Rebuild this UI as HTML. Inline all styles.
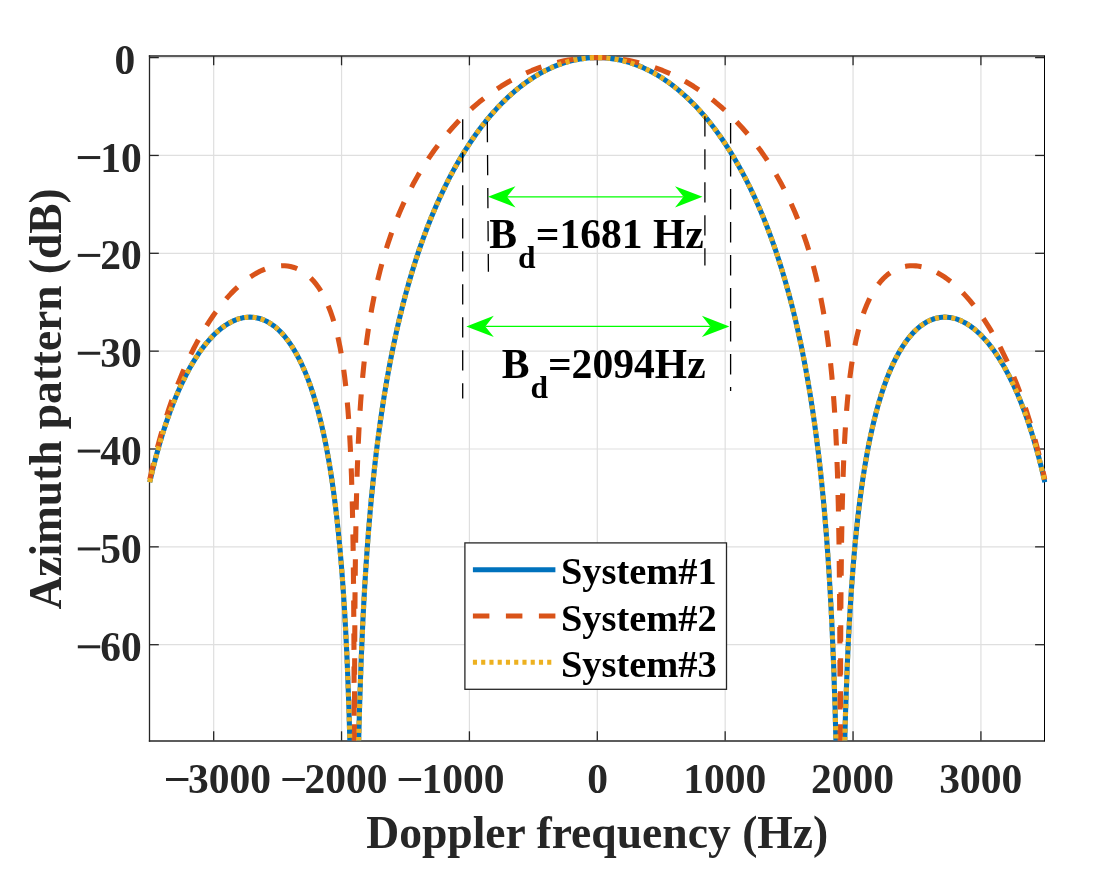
<!DOCTYPE html>
<html><head><meta charset="utf-8"><style>html,body{margin:0;padding:0;background:#fff;overflow:hidden}svg{display:block;will-change:transform}</style></head>
<body><svg width="1100" height="880" viewBox="0 0 1100 880"><line x1="213.68" y1="56.0" x2="213.68" y2="740.6" stroke="#dfdfdf" stroke-width="1.2"/>
<line x1="341.55" y1="56.0" x2="341.55" y2="740.6" stroke="#dfdfdf" stroke-width="1.2"/>
<line x1="469.42" y1="56.0" x2="469.42" y2="740.6" stroke="#dfdfdf" stroke-width="1.2"/>
<line x1="597.30" y1="56.0" x2="597.30" y2="740.6" stroke="#dfdfdf" stroke-width="1.2"/>
<line x1="725.17" y1="56.0" x2="725.17" y2="740.6" stroke="#dfdfdf" stroke-width="1.2"/>
<line x1="853.05" y1="56.0" x2="853.05" y2="740.6" stroke="#dfdfdf" stroke-width="1.2"/>
<line x1="980.92" y1="56.0" x2="980.92" y2="740.6" stroke="#dfdfdf" stroke-width="1.2"/>
<line x1="149.5" y1="57.60" x2="1044.4" y2="57.60" stroke="#dfdfdf" stroke-width="1.2"/>
<line x1="149.5" y1="155.45" x2="1044.4" y2="155.45" stroke="#dfdfdf" stroke-width="1.2"/>
<line x1="149.5" y1="253.30" x2="1044.4" y2="253.30" stroke="#dfdfdf" stroke-width="1.2"/>
<line x1="149.5" y1="351.15" x2="1044.4" y2="351.15" stroke="#dfdfdf" stroke-width="1.2"/>
<line x1="149.5" y1="449.00" x2="1044.4" y2="449.00" stroke="#dfdfdf" stroke-width="1.2"/>
<line x1="149.5" y1="546.85" x2="1044.4" y2="546.85" stroke="#dfdfdf" stroke-width="1.2"/>
<line x1="149.5" y1="644.70" x2="1044.4" y2="644.70" stroke="#dfdfdf" stroke-width="1.2"/>
<line x1="148.85" y1="56.0" x2="1044.4" y2="56.0" stroke="#262626" stroke-width="1.3"/>
<line x1="148.85" y1="741.0" x2="1044.4" y2="741.0" stroke="#262626" stroke-width="1.3"/>
<line x1="149.5" y1="55.35" x2="149.5" y2="741.65" stroke="#262626" stroke-width="1.3"/>
<line x1="1044.5" y1="55.35" x2="1044.5" y2="741.65" stroke="#000" stroke-width="1.0"/>
<line x1="213.68" y1="740.6" x2="213.68" y2="731.3000000000001" stroke="#262626" stroke-width="1.3"/>
<line x1="213.68" y1="56.0" x2="213.68" y2="65.3" stroke="#262626" stroke-width="1.3"/>
<line x1="341.55" y1="740.6" x2="341.55" y2="731.3000000000001" stroke="#262626" stroke-width="1.3"/>
<line x1="341.55" y1="56.0" x2="341.55" y2="65.3" stroke="#262626" stroke-width="1.3"/>
<line x1="469.42" y1="740.6" x2="469.42" y2="731.3000000000001" stroke="#262626" stroke-width="1.3"/>
<line x1="469.42" y1="56.0" x2="469.42" y2="65.3" stroke="#262626" stroke-width="1.3"/>
<line x1="597.30" y1="740.6" x2="597.30" y2="731.3000000000001" stroke="#262626" stroke-width="1.3"/>
<line x1="597.30" y1="56.0" x2="597.30" y2="65.3" stroke="#262626" stroke-width="1.3"/>
<line x1="725.17" y1="740.6" x2="725.17" y2="731.3000000000001" stroke="#262626" stroke-width="1.3"/>
<line x1="725.17" y1="56.0" x2="725.17" y2="65.3" stroke="#262626" stroke-width="1.3"/>
<line x1="853.05" y1="740.6" x2="853.05" y2="731.3000000000001" stroke="#262626" stroke-width="1.3"/>
<line x1="853.05" y1="56.0" x2="853.05" y2="65.3" stroke="#262626" stroke-width="1.3"/>
<line x1="980.92" y1="740.6" x2="980.92" y2="731.3000000000001" stroke="#262626" stroke-width="1.3"/>
<line x1="980.92" y1="56.0" x2="980.92" y2="65.3" stroke="#262626" stroke-width="1.3"/>
<line x1="149.5" y1="57.60" x2="158.8" y2="57.60" stroke="#262626" stroke-width="1.3"/>
<line x1="1044.4" y1="57.60" x2="1035.1000000000001" y2="57.60" stroke="#262626" stroke-width="1.3"/>
<line x1="149.5" y1="155.45" x2="158.8" y2="155.45" stroke="#262626" stroke-width="1.3"/>
<line x1="1044.4" y1="155.45" x2="1035.1000000000001" y2="155.45" stroke="#262626" stroke-width="1.3"/>
<line x1="149.5" y1="253.30" x2="158.8" y2="253.30" stroke="#262626" stroke-width="1.3"/>
<line x1="1044.4" y1="253.30" x2="1035.1000000000001" y2="253.30" stroke="#262626" stroke-width="1.3"/>
<line x1="149.5" y1="351.15" x2="158.8" y2="351.15" stroke="#262626" stroke-width="1.3"/>
<line x1="1044.4" y1="351.15" x2="1035.1000000000001" y2="351.15" stroke="#262626" stroke-width="1.3"/>
<line x1="149.5" y1="449.00" x2="158.8" y2="449.00" stroke="#262626" stroke-width="1.3"/>
<line x1="1044.4" y1="449.00" x2="1035.1000000000001" y2="449.00" stroke="#262626" stroke-width="1.3"/>
<line x1="149.5" y1="546.85" x2="158.8" y2="546.85" stroke="#262626" stroke-width="1.3"/>
<line x1="1044.4" y1="546.85" x2="1035.1000000000001" y2="546.85" stroke="#262626" stroke-width="1.3"/>
<line x1="149.5" y1="644.70" x2="158.8" y2="644.70" stroke="#262626" stroke-width="1.3"/>
<line x1="1044.4" y1="644.70" x2="1035.1000000000001" y2="644.70" stroke="#262626" stroke-width="1.3"/>
<defs><clipPath id="cp"><rect x="146.5" y="51.0" width="900.90" height="689.60"/></clipPath></defs>
<g clip-path="url(#cp)" fill="none" stroke-linejoin="round">
<path d="M149.74,482.23 L152.74,469.42 L155.88,457.11 L159.14,445.29 L162.59,433.75 L166.11,422.90 L169.81,412.35 L173.65,402.30 L177.55,392.89 L181.64,383.82 L185.86,375.25 L190.15,367.30 L194.56,359.85 L199.10,352.90 L201.40,349.65 L203.70,346.57 L206.00,343.65 L208.37,340.83 L210.73,338.18 L213.10,335.69 L215.53,333.30 L217.96,331.09 L220.39,329.04 L222.88,327.11 L225.31,325.40 L227.81,323.81 L230.23,322.42 L232.73,321.17 L235.22,320.08 L237.65,319.18 L240.15,318.43 L242.57,317.86 L245.07,317.44 L247.50,317.20 L249.93,317.13 L252.36,317.22 L254.79,317.49 L257.15,317.91 L259.52,318.50 L261.88,319.26 L264.25,320.20 L266.55,321.29 L268.85,322.55 L271.15,323.99 L273.39,325.57 L275.63,327.33 L277.87,329.28 L280.04,331.36 L282.15,333.56 L284.26,335.95 L286.37,338.54 L288.42,341.25 L291.93,346.38 L295.39,352.05 L298.71,358.16 L301.91,364.70 L304.98,371.65 L307.98,379.18 L310.86,387.12 L313.67,395.67 L316.29,404.42 L318.85,413.79 L321.28,423.56 L323.65,433.99 L325.89,444.84 L328.00,456.05 L329.98,467.62 L331.90,479.90 L333.69,492.52 L335.35,505.39 L336.95,519.02 L338.48,533.48 L339.89,548.14 L341.23,563.65 L342.45,579.23 L343.60,595.64 L344.68,612.94 L345.71,631.20 L346.66,650.50 L347.50,669.37 L349.03,711.41 L350.31,757.34" stroke="#0072bd" stroke-width="5.1"/>
<path d="M358.24,757.27 L359.52,708.21 L360.99,664.75 L362.71,624.40 L363.67,605.35 L364.76,585.94 L365.91,567.41 L367.12,549.69 L368.40,532.70 L369.81,515.65 L371.28,499.34 L372.82,483.71 L374.48,468.11 L376.20,453.15 L378.06,438.29 L380.04,423.57 L382.15,409.04 L384.32,395.12 L386.63,381.39 L388.99,368.21 L391.49,355.21 L394.11,342.41 L396.86,329.83 L399.67,317.73 L402.67,305.58 L405.74,293.91 L408.94,282.45 L412.26,271.21 L415.72,260.20 L419.23,249.61 L423.13,238.53 L427.16,227.75 L431.32,217.26 L435.67,206.92 L440.08,197.04 L444.68,187.32 L449.41,177.90 L454.21,168.92 L459.13,160.23 L464.18,151.84 L469.36,143.76 L474.67,135.98 L480.10,128.52 L485.60,121.45 L491.23,114.70 L496.92,108.34 L502.74,102.29 L508.62,96.64 L514.63,91.30 L520.70,86.36 L526.84,81.80 L533.04,77.63 L539.31,73.84 L545.57,70.47 L551.90,67.48 L558.30,64.87 L564.76,62.65 L571.21,60.84 L574.47,60.08 L577.74,59.42 L581.00,58.86 L584.26,58.41 L587.52,58.05 L590.78,57.80 L594.04,57.65 L597.30,57.60 L600.56,57.65 L603.82,57.80 L607.08,58.05 L610.34,58.41 L613.60,58.86 L616.86,59.42 L620.13,60.08 L623.39,60.84 L629.84,62.65 L636.30,64.87 L642.70,67.48 L649.03,70.47 L655.29,73.84 L661.56,77.63 L667.76,81.80 L673.90,86.36 L679.97,91.30 L685.98,96.64 L691.86,102.29 L697.68,108.34 L703.37,114.70 L709.00,121.45 L714.50,128.52 L719.93,135.98 L725.24,143.76 L730.42,151.84 L735.47,160.23 L740.39,168.92 L745.19,177.90 L749.92,187.32 L754.52,197.04 L758.93,206.92 L763.28,217.26 L767.44,227.75 L771.47,238.53 L775.37,249.61 L778.88,260.20 L782.34,271.21 L785.66,282.45 L788.86,293.91 L791.93,305.58 L794.93,317.73 L797.74,329.83 L800.49,342.41 L803.11,355.21 L805.61,368.21 L807.97,381.39 L810.28,395.12 L812.45,409.04 L814.56,423.57 L816.54,438.29 L818.40,453.15 L820.12,468.11 L821.78,483.71 L823.32,499.34 L824.79,515.65 L826.20,532.70 L827.47,549.69 L828.69,567.41 L829.84,585.94 L830.93,605.35 L831.89,624.40 L833.61,664.75 L835.08,708.21 L836.36,757.27" stroke="#0072bd" stroke-width="5.1"/>
<path d="M844.29,757.34 L845.57,711.41 L847.10,669.37 L847.93,650.50 L848.89,631.20 L849.92,612.94 L851.00,595.64 L852.15,579.23 L853.37,563.65 L854.71,548.14 L856.12,533.48 L857.65,519.02 L859.25,505.39 L860.91,492.52 L862.70,479.90 L864.62,467.62 L866.60,456.05 L868.71,444.84 L870.95,433.99 L873.32,423.56 L875.75,413.79 L878.31,404.42 L880.93,395.67 L883.74,387.12 L886.62,379.18 L889.62,371.65 L892.69,364.70 L895.89,358.16 L899.21,352.05 L902.67,346.38 L906.18,341.25 L908.23,338.54 L910.34,335.95 L912.45,333.56 L914.56,331.36 L916.73,329.28 L918.97,327.33 L921.21,325.57 L923.45,323.99 L925.75,322.55 L928.05,321.29 L930.35,320.20 L932.72,319.26 L935.08,318.50 L937.45,317.91 L939.81,317.49 L942.24,317.22 L944.67,317.13 L947.10,317.20 L949.53,317.44 L952.03,317.86 L954.45,318.43 L956.95,319.18 L959.38,320.08 L961.87,321.17 L964.37,322.42 L966.79,323.81 L969.29,325.40 L971.72,327.11 L974.21,329.04 L976.64,331.09 L979.07,333.30 L981.50,335.69 L983.87,338.18 L986.23,340.83 L988.60,343.65 L990.90,346.57 L993.20,349.65 L995.50,352.90 L1000.04,359.85 L1004.45,367.30 L1008.74,375.25 L1012.96,383.82 L1017.05,392.89 L1020.95,402.30 L1024.79,412.35 L1028.49,422.90 L1032.01,433.75 L1035.46,445.29 L1038.72,457.11 L1041.86,469.42 L1044.86,482.23" stroke="#0072bd" stroke-width="5.1"/>
<path d="M149.74,479.59 L153.19,464.46 L156.83,449.81 L160.67,435.65 L164.76,421.77 L168.98,408.61 L173.46,395.74 L178.13,383.40 L182.92,371.71 L187.97,360.37 L193.21,349.54 L195.90,344.34 L198.59,339.36 L201.34,334.47 L204.15,329.68 L206.96,325.10 L209.84,320.63 L212.78,316.27 L215.72,312.11 L218.66,308.15 L221.67,304.30 L224.67,300.65 L227.74,297.11 L230.94,293.64 L234.13,290.37 L237.33,287.30 L240.53,284.44 L243.73,281.77 L246.99,279.26 L250.25,276.95 L253.51,274.85 L256.77,272.95 L259.97,271.30 L263.16,269.85 L266.30,268.62 L269.43,267.61 L272.56,266.79 L275.63,266.21 L278.70,265.84 L281.70,265.69 L284.65,265.76 L287.52,266.04 L290.40,266.55 L293.15,267.25 L295.90,268.19 L298.58,269.34 L301.21,270.71 L303.76,272.29 L306.26,274.08 L308.69,276.09 L310.99,278.26 L313.29,280.70 L315.46,283.29 L317.64,286.17 L319.68,289.18 L322.56,293.97 L325.25,299.12 L327.80,304.74 L330.17,310.68 L332.47,317.27 L334.58,324.17 L336.56,331.56 L338.42,339.45 L340.14,347.85 L341.74,356.77 L343.21,366.19 L344.56,376.11 L345.77,386.47 L346.92,397.87 L347.94,409.73 L348.84,421.89 L349.61,434.11 L350.31,447.28 L350.95,461.51 L351.52,476.91 L352.42,508.82 L353.12,547.15 L353.63,593.24 L353.95,644.53 L354.15,703.31 L354.27,796.59" stroke="#d95319" stroke-width="5.1" stroke-dasharray="16.5 16.5" stroke-dashoffset="0"/>
<path d="M354.40,796.50 L354.53,703.04 L354.72,643.99 L355.04,592.25 L355.55,545.45 L356.26,506.14 L357.15,472.97 L358.30,443.04 L359.00,428.69 L359.77,415.23 L360.67,401.68 L361.69,388.27 L362.78,375.83 L363.99,363.61 L365.33,351.68 L366.74,340.55 L368.28,329.67 L369.94,319.06 L371.73,308.73 L373.65,298.68 L375.69,288.90 L377.93,279.13 L380.23,269.90 L382.73,260.69 L385.35,251.74 L388.16,242.86 L391.74,232.44 L395.51,222.38 L399.54,212.50 L403.83,202.81 L408.30,193.46 L413.03,184.31 L418.02,175.37 L423.20,166.75 L428.63,158.35 L434.26,150.27 L440.08,142.49 L446.15,134.95 L452.42,127.72 L458.81,120.86 L465.46,114.25 L472.24,108.01 L479.21,102.08 L486.37,96.47 L493.66,91.22 L501.14,86.30 L508.68,81.79 L516.36,77.64 L524.16,73.86 L532.02,70.48 L539.95,67.49 L548.00,64.88 L556.12,62.66 L560.22,61.70 L564.31,60.84 L568.40,60.08 L572.49,59.43 L576.58,58.87 L580.74,58.41 L584.83,58.06 L588.99,57.80 L593.14,57.65 L597.30,57.60 L601.46,57.65 L605.61,57.80 L609.77,58.06 L613.86,58.41 L618.02,58.87 L622.11,59.43 L626.20,60.08 L630.29,60.84 L634.38,61.70 L638.48,62.66 L646.60,64.88 L654.65,67.49 L662.58,70.48 L670.44,73.86 L678.24,77.64 L685.92,81.79 L693.46,86.30 L700.94,91.22 L708.23,96.47 L715.39,102.08 L722.36,108.01 L729.14,114.25 L735.79,120.86 L742.18,127.72 L748.45,134.95 L754.52,142.49 L760.34,150.27 L765.97,158.35 L771.40,166.75 L776.58,175.37 L781.57,184.31 L786.30,193.46 L790.77,202.81 L795.06,212.50 L799.09,222.38 L802.86,232.44 L806.44,242.86 L809.25,251.74 L811.87,260.69 L814.37,269.90 L816.67,279.13 L818.91,288.90 L820.95,298.68 L822.87,308.73 L824.66,319.06 L826.32,329.67 L827.86,340.55 L829.27,351.68 L830.61,363.61 L831.82,375.83 L832.91,388.27 L833.93,401.68 L834.83,415.23 L835.60,428.69 L836.30,443.04 L837.45,472.97 L838.34,506.14 L839.05,545.45 L839.56,592.25 L839.88,643.99 L840.07,703.04 L840.20,796.50" stroke="#d95319" stroke-width="5.1" stroke-dasharray="16.5 16.5" stroke-dashoffset="10.2"/>
<path d="M840.33,796.59 L840.45,703.31 L840.65,644.53 L840.97,593.24 L841.48,547.15 L842.18,508.82 L843.08,476.91 L843.65,461.51 L844.29,447.28 L844.99,434.11 L845.76,421.89 L846.66,409.73 L847.68,397.87 L848.83,386.47 L850.04,376.11 L851.39,366.19 L852.86,356.77 L854.46,347.85 L856.18,339.45 L858.04,331.56 L860.02,324.17 L862.13,317.27 L864.43,310.68 L866.80,304.74 L869.35,299.12 L872.04,293.97 L874.92,289.18 L876.96,286.17 L879.14,283.29 L881.31,280.70 L883.61,278.26 L885.91,276.09 L888.34,274.08 L890.84,272.29 L893.39,270.71 L896.02,269.34 L898.70,268.19 L901.45,267.25 L904.20,266.55 L907.08,266.04 L909.95,265.76 L912.90,265.69 L915.90,265.84 L918.97,266.21 L922.04,266.79 L925.17,267.61 L928.30,268.62 L931.44,269.85 L934.63,271.30 L937.83,272.95 L941.09,274.85 L944.35,276.95 L947.61,279.26 L950.87,281.77 L954.07,284.44 L957.27,287.30 L960.46,290.37 L963.66,293.64 L966.86,297.11 L969.93,300.65 L972.93,304.30 L975.94,308.15 L978.88,312.11 L981.82,316.27 L984.76,320.63 L987.64,325.10 L990.45,329.68 L993.26,334.47 L996.01,339.36 L998.70,344.34 L1001.38,349.54 L1006.63,360.37 L1011.68,371.71 L1016.47,383.40 L1021.14,395.74 L1025.62,408.61 L1029.84,421.77 L1033.93,435.65 L1037.77,449.81 L1041.41,464.46 L1044.86,479.59" stroke="#d95319" stroke-width="5.1" stroke-dasharray="16.5 16.5" stroke-dashoffset="10.2"/>
<path d="M149.74,482.23 L152.74,469.42 L155.88,457.11 L159.14,445.29 L162.59,433.75 L166.11,422.90 L169.81,412.35 L173.65,402.30 L177.55,392.89 L181.64,383.82 L185.86,375.25 L190.15,367.30 L194.56,359.85 L199.10,352.90 L201.40,349.65 L203.70,346.57 L206.00,343.65 L208.37,340.83 L210.73,338.18 L213.10,335.69 L215.53,333.30 L217.96,331.09 L220.39,329.04 L222.88,327.11 L225.31,325.40 L227.81,323.81 L230.23,322.42 L232.73,321.17 L235.22,320.08 L237.65,319.18 L240.15,318.43 L242.57,317.86 L245.07,317.44 L247.50,317.20 L249.93,317.13 L252.36,317.22 L254.79,317.49 L257.15,317.91 L259.52,318.50 L261.88,319.26 L264.25,320.20 L266.55,321.29 L268.85,322.55 L271.15,323.99 L273.39,325.57 L275.63,327.33 L277.87,329.28 L280.04,331.36 L282.15,333.56 L284.26,335.95 L286.37,338.54 L288.42,341.25 L291.93,346.38 L295.39,352.05 L298.71,358.16 L301.91,364.70 L304.98,371.65 L307.98,379.18 L310.86,387.12 L313.67,395.67 L316.29,404.42 L318.85,413.79 L321.28,423.56 L323.65,433.99 L325.89,444.84 L328.00,456.05 L329.98,467.62 L331.90,479.90 L333.69,492.52 L335.35,505.39 L336.95,519.02 L338.48,533.48 L339.89,548.14 L341.23,563.65 L342.45,579.23 L343.60,595.64 L344.68,612.94 L345.71,631.20 L346.66,650.50 L347.50,669.37 L349.03,711.41 L350.31,757.34" stroke="#edb120" stroke-width="5.1" stroke-dasharray="4.127 4.127" stroke-dashoffset="0"/>
<path d="M358.24,757.27 L359.52,708.21 L360.99,664.75 L362.71,624.40 L363.67,605.35 L364.76,585.94 L365.91,567.41 L367.12,549.69 L368.40,532.70 L369.81,515.65 L371.28,499.34 L372.82,483.71 L374.48,468.11 L376.20,453.15 L378.06,438.29 L380.04,423.57 L382.15,409.04 L384.32,395.12 L386.63,381.39 L388.99,368.21 L391.49,355.21 L394.11,342.41 L396.86,329.83 L399.67,317.73 L402.67,305.58 L405.74,293.91 L408.94,282.45 L412.26,271.21 L415.72,260.20 L419.23,249.61 L423.13,238.53 L427.16,227.75 L431.32,217.26 L435.67,206.92 L440.08,197.04 L444.68,187.32 L449.41,177.90 L454.21,168.92 L459.13,160.23 L464.18,151.84 L469.36,143.76 L474.67,135.98 L480.10,128.52 L485.60,121.45 L491.23,114.70 L496.92,108.34 L502.74,102.29 L508.62,96.64 L514.63,91.30 L520.70,86.36 L526.84,81.80 L533.04,77.63 L539.31,73.84 L545.57,70.47 L551.90,67.48 L558.30,64.87 L564.76,62.65 L571.21,60.84 L574.47,60.08 L577.74,59.42 L581.00,58.86 L584.26,58.41 L587.52,58.05 L590.78,57.80 L594.04,57.65 L597.30,57.60 L600.56,57.65 L603.82,57.80 L607.08,58.05 L610.34,58.41 L613.60,58.86 L616.86,59.42 L620.13,60.08 L623.39,60.84 L629.84,62.65 L636.30,64.87 L642.70,67.48 L649.03,70.47 L655.29,73.84 L661.56,77.63 L667.76,81.80 L673.90,86.36 L679.97,91.30 L685.98,96.64 L691.86,102.29 L697.68,108.34 L703.37,114.70 L709.00,121.45 L714.50,128.52 L719.93,135.98 L725.24,143.76 L730.42,151.84 L735.47,160.23 L740.39,168.92 L745.19,177.90 L749.92,187.32 L754.52,197.04 L758.93,206.92 L763.28,217.26 L767.44,227.75 L771.47,238.53 L775.37,249.61 L778.88,260.20 L782.34,271.21 L785.66,282.45 L788.86,293.91 L791.93,305.58 L794.93,317.73 L797.74,329.83 L800.49,342.41 L803.11,355.21 L805.61,368.21 L807.97,381.39 L810.28,395.12 L812.45,409.04 L814.56,423.57 L816.54,438.29 L818.40,453.15 L820.12,468.11 L821.78,483.71 L823.32,499.34 L824.79,515.65 L826.20,532.70 L827.47,549.69 L828.69,567.41 L829.84,585.94 L830.93,605.35 L831.89,624.40 L833.61,664.75 L835.08,708.21 L836.36,757.27" stroke="#edb120" stroke-width="5.1" stroke-dasharray="4.127 4.127" stroke-dashoffset="0.32"/>
<path d="M844.29,757.34 L845.57,711.41 L847.10,669.37 L847.93,650.50 L848.89,631.20 L849.92,612.94 L851.00,595.64 L852.15,579.23 L853.37,563.65 L854.71,548.14 L856.12,533.48 L857.65,519.02 L859.25,505.39 L860.91,492.52 L862.70,479.90 L864.62,467.62 L866.60,456.05 L868.71,444.84 L870.95,433.99 L873.32,423.56 L875.75,413.79 L878.31,404.42 L880.93,395.67 L883.74,387.12 L886.62,379.18 L889.62,371.65 L892.69,364.70 L895.89,358.16 L899.21,352.05 L902.67,346.38 L906.18,341.25 L908.23,338.54 L910.34,335.95 L912.45,333.56 L914.56,331.36 L916.73,329.28 L918.97,327.33 L921.21,325.57 L923.45,323.99 L925.75,322.55 L928.05,321.29 L930.35,320.20 L932.72,319.26 L935.08,318.50 L937.45,317.91 L939.81,317.49 L942.24,317.22 L944.67,317.13 L947.10,317.20 L949.53,317.44 L952.03,317.86 L954.45,318.43 L956.95,319.18 L959.38,320.08 L961.87,321.17 L964.37,322.42 L966.79,323.81 L969.29,325.40 L971.72,327.11 L974.21,329.04 L976.64,331.09 L979.07,333.30 L981.50,335.69 L983.87,338.18 L986.23,340.83 L988.60,343.65 L990.90,346.57 L993.20,349.65 L995.50,352.90 L1000.04,359.85 L1004.45,367.30 L1008.74,375.25 L1012.96,383.82 L1017.05,392.89 L1020.95,402.30 L1024.79,412.35 L1028.49,422.90 L1032.01,433.75 L1035.46,445.29 L1038.72,457.11 L1041.86,469.42 L1044.86,482.23" stroke="#edb120" stroke-width="5.1" stroke-dasharray="4.127 4.127" stroke-dashoffset="0.2"/>
</g>
<line x1="462.7" y1="119.3" x2="462.7" y2="398.5" stroke="#000" stroke-width="1.3" stroke-dasharray="20.3 12.7"/>
<line x1="487.3" y1="122.0" x2="488.4" y2="271.7" stroke="#000" stroke-width="1.3" stroke-dasharray="20.3 12.7"/>
<line x1="704.9" y1="116.3" x2="704.9" y2="265.4" stroke="#000" stroke-width="1.3" stroke-dasharray="20.3 12.7"/>
<line x1="730.6" y1="123.1" x2="730.6" y2="391.0" stroke="#000" stroke-width="1.3" stroke-dasharray="20.3 12.7"/>
<line x1="507.00" y1="196.8" x2="683.50" y2="196.8" stroke="#00ff00" stroke-width="1.2"/><path d="M488.00,196.8 L515.50,186.20 L507.00,196.8 L515.50,207.40 Z" fill="#00ff00"/><path d="M702.50,196.8 L675.00,186.20 L683.50,196.8 L675.00,207.40 Z" fill="#00ff00"/>
<line x1="485.30" y1="326.4" x2="710.40" y2="326.4" stroke="#00ff00" stroke-width="1.2"/><path d="M466.30,326.4 L493.80,315.80 L485.30,326.4 L493.80,337.00 Z" fill="#00ff00"/><path d="M729.40,326.4 L701.90,315.80 L710.40,326.4 L701.90,337.00 Z" fill="#00ff00"/>
<text x="489.31" y="247.60" style="font-family:'Liberation Serif',serif;font-weight:bold;font-size:41.6px" fill="#000" >B</text>
<text x="518.02" y="268.20" style="font-family:'Liberation Serif',serif;font-weight:bold;font-size:31.5px" fill="#000" >d</text>
<text x="535.73" y="247.60" style="font-family:'Liberation Serif',serif;font-weight:bold;font-size:41.6px" fill="#000" >=1681 Hz</text>
<text x="501.81" y="377.70" style="font-family:'Liberation Serif',serif;font-weight:bold;font-size:41.6px" fill="#000" >B</text>
<text x="530.62" y="398.30" style="font-family:'Liberation Serif',serif;font-weight:bold;font-size:31.5px" fill="#000" >d</text>
<text x="547.93" y="377.60" style="font-family:'Liberation Serif',serif;font-weight:bold;font-size:41.6px" fill="#000" >=2094Hz</text>
<rect x="464.9" y="542.9" width="261.60" height="146.40" fill="#fff" stroke="#262626" stroke-width="1.3"/>
<line x1="472.9" y1="569.7" x2="555.4" y2="569.7" stroke="#0072bd" stroke-width="5.1"/>
<line x1="472.9" y1="616.0" x2="555.4" y2="616.0" stroke="#d95319" stroke-width="5.1" stroke-dasharray="16.5 16.5"/>
<line x1="472.9" y1="662.2" x2="555.4" y2="662.2" stroke="#edb120" stroke-width="5.1" stroke-dasharray="4.127 4.127"/>
<text x="560.96" y="584.40" style="font-family:'Liberation Serif',serif;font-weight:bold;font-size:38.4px" fill="#000" >System#1</text>
<text x="560.96" y="630.65" style="font-family:'Liberation Serif',serif;font-weight:bold;font-size:38.4px" fill="#000" >System#2</text>
<text x="560.96" y="676.90" style="font-family:'Liberation Serif',serif;font-weight:bold;font-size:38.4px" fill="#000" >System#3</text>
<text x="187.94" y="793.00" style="font-family:'Liberation Serif',serif;font-weight:bold;font-size:41.5px" fill="#262626" >3000</text>
<rect x="166.00" y="778.00" width="22.4" height="3.0" fill="#262626"/>
<text x="304.46" y="793.00" style="font-family:'Liberation Serif',serif;font-weight:bold;font-size:41.5px" fill="#262626" >2000</text>
<rect x="282.40" y="778.00" width="22.4" height="3.0" fill="#262626"/>
<text x="421.38" y="793.00" style="font-family:'Liberation Serif',serif;font-weight:bold;font-size:41.5px" fill="#262626" >1000</text>
<rect x="398.70" y="778.00" width="22.4" height="3.0" fill="#262626"/>
<text x="587.22" y="793.00" style="font-family:'Liberation Serif',serif;font-weight:bold;font-size:41.5px" fill="#262626" >0</text>
<text x="683.28" y="793.00" style="font-family:'Liberation Serif',serif;font-weight:bold;font-size:41.5px" fill="#262626" >1000</text>
<text x="810.96" y="793.00" style="font-family:'Liberation Serif',serif;font-weight:bold;font-size:41.5px" fill="#262626" >2000</text>
<text x="939.14" y="793.00" style="font-family:'Liberation Serif',serif;font-weight:bold;font-size:41.5px" fill="#262626" >3000</text>
<text x="114.62" y="73.71" style="font-family:'Liberation Serif',serif;font-weight:bold;font-size:41.5px" fill="#262626" >0</text>
<text x="100.28" y="171.56" style="font-family:'Liberation Serif',serif;font-weight:bold;font-size:41.5px" fill="#262626" >10</text>
<rect x="77.80" y="156.05" width="22.4" height="3.0" fill="#262626"/>
<text x="100.28" y="269.41" style="font-family:'Liberation Serif',serif;font-weight:bold;font-size:41.5px" fill="#262626" >20</text>
<rect x="77.80" y="253.90" width="22.4" height="3.0" fill="#262626"/>
<text x="100.28" y="367.26" style="font-family:'Liberation Serif',serif;font-weight:bold;font-size:41.5px" fill="#262626" >30</text>
<rect x="77.80" y="351.75" width="22.4" height="3.0" fill="#262626"/>
<text x="100.28" y="465.11" style="font-family:'Liberation Serif',serif;font-weight:bold;font-size:41.5px" fill="#262626" >40</text>
<rect x="77.80" y="449.60" width="22.4" height="3.0" fill="#262626"/>
<text x="100.28" y="562.96" style="font-family:'Liberation Serif',serif;font-weight:bold;font-size:41.5px" fill="#262626" >50</text>
<rect x="77.80" y="547.45" width="22.4" height="3.0" fill="#262626"/>
<text x="100.28" y="660.81" style="font-family:'Liberation Serif',serif;font-weight:bold;font-size:41.5px" fill="#262626" >60</text>
<rect x="77.80" y="645.30" width="22.4" height="3.0" fill="#262626"/>
<text x="366.20" y="847.70" style="font-family:'Liberation Serif',serif;font-weight:bold;font-size:45.63px" fill="#262626" >Doppler frequency (Hz)</text>
<text transform="translate(60.9,609.54) rotate(-90)" x="0" y="0" style="font-family:'Liberation Serif',serif;font-weight:bold;font-size:45.4px" fill="#262626">Azimuth pattern (dB)</text></svg></body></html>
